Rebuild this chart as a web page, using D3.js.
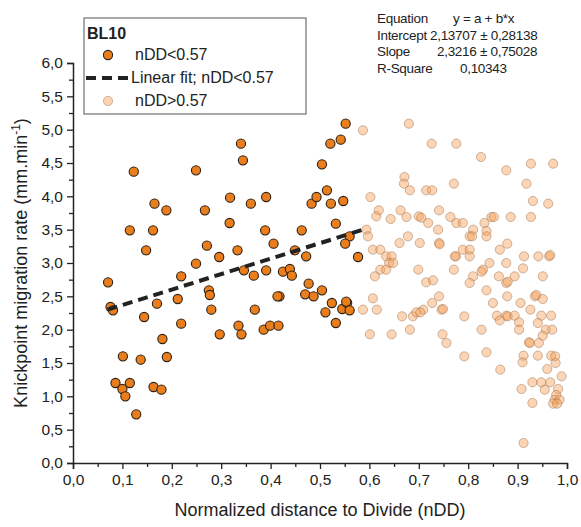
<!DOCTYPE html>
<html lang="en">
  <head>
    <meta charset="utf-8">
    <title>BL10 knickpoint migration</title>
    <script src="https://cdn.jsdelivr.net/npm/d3@7"></script>
    <style>
      body { margin: 0; background: #fff; }
      text { font-family: "Liberation Sans", Arial, sans-serif; fill: #222; }
    </style>
  </head>
  <body>
    <div id="chart"></div>
    <script type="text/javascript">
      // points with nDD < 0.57 : [nDD, rate]
      const lowNdd = [
        [0.123,4.37],[0.249,4.39],[0.340,4.79],[0.344,4.54],[0.165,3.89],[0.189,3.79],[0.267,3.79],
        [0.318,3.98],[0.360,3.89],[0.391,3.99],[0.115,3.49],[0.162,3.49],[0.317,3.60],[0.389,3.49],
        [0.463,3.49],[0.483,3.89],[0.493,3.99],[0.504,4.48],[0.148,3.19],[0.271,3.26],[0.296,3.09],
        [0.333,3.19],[0.406,3.29],[0.449,3.19],[0.472,3.10],[0.249,2.99],[0.346,2.89],[0.391,2.89],
        [0.425,2.87],[0.439,2.91],[0.443,2.81],[0.366,2.81],[0.219,2.80],[0.071,2.71],[0.076,2.34],
        [0.081,2.29],[0.477,2.69],[0.504,2.59],[0.144,2.19],[0.170,2.39],[0.212,2.46],[0.275,2.59],
        [0.277,2.52],[0.280,2.30],[0.219,2.09],[0.181,1.86],[0.297,1.93],[0.335,2.06],[0.341,1.93],
        [0.368,2.30],[0.386,2.00],[0.399,2.06],[0.416,2.06],[0.418,2.50],[0.414,2.50],[0.470,2.53],
        [0.487,2.50],[0.101,1.60],[0.137,1.55],[0.190,1.59],[0.086,1.20],[0.100,1.11],[0.115,1.20],
        [0.106,1.00],[0.163,1.14],[0.179,1.10],[0.128,0.73],[0.552,5.09],[0.542,4.85],[0.521,4.79],
        [0.514,4.09],[0.522,3.89],[0.547,3.93],[0.532,3.59],[0.560,3.40],[0.551,3.29],[0.577,3.09],
        [0.524,2.40],[0.511,2.26],[0.532,2.10],[0.545,2.31],[0.555,2.40],[0.560,2.29],[0.553,2.42]
      ];

      // points with nDD > 0.57
      const highNdd = [
        [0.587,4.99],[0.680,5.09],[0.726,4.79],[0.776,4.79],[0.826,4.59],[0.877,4.39],[0.927,4.49],
        [0.972,4.49],[0.671,4.29],[0.670,4.19],[0.682,4.09],[0.715,4.09],[0.727,4.09],[0.771,4.19],
        [0.918,4.19],[0.602,3.99],[0.931,3.93],[0.962,3.89],[0.619,3.79],[0.614,3.70],[0.663,3.79],
        [0.643,3.66],[0.675,3.69],[0.700,3.70],[0.705,3.68],[0.719,3.60],[0.741,3.79],[0.764,3.69],
        [0.776,3.60],[0.789,3.60],[0.810,3.50],[0.833,3.60],[0.837,3.48],[0.847,3.69],[0.852,3.69],
        [0.886,3.69],[0.927,3.69],[0.594,3.50],[0.597,3.40],[0.739,3.50],[0.678,3.40],[0.661,3.30],
        [0.702,3.30],[0.741,3.30],[0.742,3.28],[0.803,3.40],[0.808,3.40],[0.837,3.40],[0.879,3.29],
        [0.864,3.20],[0.607,3.20],[0.622,3.20],[0.634,3.10],[0.645,3.10],[0.640,3.00],[0.648,3.00],
        [0.775,3.10],[0.773,3.10],[0.789,3.20],[0.803,3.20],[0.803,3.10],[0.830,2.90],[0.843,3.00],
        [0.877,3.00],[0.913,3.10],[0.942,3.10],[0.964,3.10],[0.966,3.12],[0.911,2.92],[0.699,2.90],
        [0.771,2.90],[0.622,2.90],[0.634,2.90],[0.611,2.80],[0.810,2.80],[0.827,2.87],[0.862,2.80],
        [0.894,2.80],[0.951,2.80],[0.715,2.71],[0.729,2.74],[0.803,2.70],[0.877,2.70],[0.880,2.72],
        [0.837,2.59],[0.607,2.47],[0.741,2.50],[0.727,2.40],[0.850,2.40],[0.879,2.50],[0.906,2.40],
        [0.935,2.50],[0.938,2.52],[0.951,2.46],[0.587,2.30],[0.615,2.30],[0.709,2.30],[0.746,2.30],
        [0.749,2.31],[0.926,2.30],[0.666,2.20],[0.688,2.20],[0.695,2.26],[0.703,2.26],[0.792,2.20],
        [0.858,2.21],[0.877,2.21],[0.880,2.20],[0.894,2.21],[0.948,2.21],[0.968,2.21],[0.864,2.14],
        [0.903,2.11],[0.941,2.10],[0.903,2.00],[0.957,2.00],[0.970,2.00],[0.682,2.00],[0.827,2.00],
        [0.601,1.93],[0.645,1.93],[0.748,1.93],[0.951,1.91],[0.756,1.80],[0.923,1.81],[0.925,1.80],
        [0.943,1.80],[0.792,1.60],[0.837,1.66],[0.912,1.61],[0.910,1.51],[0.941,1.61],[0.968,1.61],
        [0.976,1.60],[0.977,1.50],[0.960,1.41],[0.865,1.40],[0.989,1.30],[0.930,1.21],[0.948,1.21],
        [0.966,1.21],[0.908,1.11],[0.955,1.10],[0.982,1.11],[0.978,1.02],[0.975,0.95],[0.985,0.95],
        [0.972,0.89],[0.980,0.89],[0.930,0.90],[0.912,0.30]
      ];

      // linear fit y = a + b*x on nDD<0.57
      const fitCoef = [2.13707, 2.3216];
      const fitRange = [0.07, 0.585];
      const statLabels = ["Equation", "Intercept", "Slope", "R-Square"];
      const statValues = ["y = a + b*x", "2,13707 \u00b1 0,28138", "2,3216 \u00b1 0,75028", "0,10343"];
      const legendLabels = ["nDD<0.57", "Linear fit; nDD<0.57", "nDD>0.57"];

      const svgWidth = 581, svgHeight = 527;
      const margin = { top: 63, right: 14, bottom: 64, left: 73 },
            width = svgWidth - margin.left - margin.right,
            height = svgHeight - margin.top - margin.bottom;

      const root = d3.select("#chart").append("svg")
          .attr("width", svgWidth)
          .attr("height", svgHeight);

      const svg = root.append("g")
          .attr("transform", `translate(${margin.left}, ${margin.top})`);

      const x = d3.scaleLinear().domain([0, 1]).range([0, width]);
      const y = d3.scaleLinear().domain([0, 6]).range([height, 0]);

      const comma = f => (v => d3.format(f)(v).replace(".", ","));

      // axes: major + minor ticks
      const xMinor = svg.append("g")
          .attr("transform", `translate(0, ${height})`)
          .call(d3.axisBottom(x).tickValues(d3.range(0.05, 1, 0.1)).tickSize(4).tickFormat(""));
      const xMajor = svg.append("g")
          .attr("transform", `translate(0, ${height})`)
          .call(d3.axisBottom(x).tickValues(d3.range(0, 1.01, 0.1)).tickSize(6)
                .tickPadding(5).tickFormat(comma(".1f")));
      const yMinor = svg.append("g")
          .call(d3.axisLeft(y).tickValues(d3.range(0.25, 6, 0.5)).tickSize(4).tickFormat(""));
      const yMajor = svg.append("g")
          .call(d3.axisLeft(y).tickValues(d3.range(0, 6.01, 0.5)).tickSize(6)
                .tickPadding(4).tickFormat(comma(".1f")));

      [xMinor, xMajor, yMinor, yMajor].forEach(g => {
          g.select(".domain").attr("stroke", "#222").attr("stroke-width", 1.5);
          g.selectAll(".tick line").attr("stroke", "#222").attr("stroke-width", 1.3);
          g.selectAll(".tick text").attr("font-size", 15.5).attr("fill", "#222")
              .style("font-family", "'Liberation Sans', Arial, sans-serif");
      });
      xMinor.select(".domain").remove();
      yMinor.select(".domain").remove();

      // axis titles
      svg.append("text")
          .attr("x", width / 2)
          .attr("y", height + 53)
          .attr("text-anchor", "middle")
          .attr("font-size", 18)
          .text("Normalized distance to Divide (nDD)");

      const yTitle = svg.append("text")
          .attr("transform", `translate(-46, ${height / 2}) rotate(-90)`)
          .attr("text-anchor", "middle")
          .attr("font-size", 18);
      yTitle.append("tspan").text("Knickpoint migration rate (mm.min");
      yTitle.append("tspan").attr("dy", -7).attr("font-size", 12).text("-1");
      yTitle.append("tspan").attr("dy", 7).text(")");

      // points
      svg.append("g").selectAll("circle")
          .data(highNdd)
          .join("circle")
          .attr("cx", d => x(d[0]))
          .attr("cy", d => y(d[1]))
          .attr("r", 4.6)
          .attr("fill", "#f7a25a")
          .attr("fill-opacity", 0.45)
          .attr("stroke", "#9a6a45")
          .attr("stroke-opacity", 0.45)
          .attr("stroke-width", 1);

      svg.append("g").selectAll("circle")
          .data(lowNdd)
          .join("circle")
          .attr("cx", d => x(d[0]))
          .attr("cy", d => y(d[1]))
          .attr("r", 4.6)
          .attr("fill", "#ea7d1c")
          .attr("stroke", "#2d2115")
          .attr("stroke-width", 1.1);

      const fitLine = d3.line()
          .x(d => x(d))
          .y(d => y(fitCoef[0] + fitCoef[1] * d));

      svg.append("path")
          .datum(fitRange)
          .attr("fill", "none")
          .attr("stroke", "#222")
          .attr("stroke-width", 4)
          .attr("stroke-dasharray", "10,6")
          .attr("d", fitLine);

      // legend
      const legend = root.append("g").attr("transform", "translate(84, 18)");
      legend.append("rect")
          .attr("width", 222).attr("height", 96)
          .attr("fill", "#fff").attr("stroke", "#555").attr("stroke-width", 1);
      legend.append("text")
          .attr("x", 3).attr("y", 21)
          .attr("font-size", 16).attr("font-weight", "bold")
          .text("BL10");

      const rows = [42, 65, 88];
      legend.append("circle").attr("cx", 24).attr("cy", rows[0] - 5).attr("r", 4.6)
          .attr("fill", "#ea7d1c").attr("stroke", "#2d2115").attr("stroke-width", 1.1);
      legend.append("line")
          .attr("x1", 2).attr("x2", 47).attr("y1", rows[1] - 5).attr("y2", rows[1] - 5)
          .attr("stroke", "#222").attr("stroke-width", 4).attr("stroke-dasharray", "10,6");
      legend.append("circle").attr("cx", 24).attr("cy", rows[2] - 5).attr("r", 4.6)
          .attr("fill", "#f7a25a").attr("fill-opacity", 0.45)
          .attr("stroke", "#9a6a45").attr("stroke-opacity", 0.45);
      legend.selectAll("text.item")
          .data(legendLabels)
          .join("text")
          .attr("class", "item")
          .attr("x", (d, i) => i === 1 ? 47 : 51)
          .attr("y", (d, i) => rows[i])
          .attr("font-size", 16)
          .text(d => d);

      // fit statistics
      const stats = root.append("g").attr("transform", "translate(377, 0)");
      stats.selectAll("text.lab")
          .data(statLabels)
          .join("text")
          .attr("class", "lab")
          .attr("x", 0)
          .attr("y", (d, i) => 23 + i * 16.5)
          .attr("font-size", 13.5)
          .attr("letter-spacing", -0.3)
          .text(d => d);
      stats.selectAll("text.val")
          .data(statValues)
          .join("text")
          .attr("class", "val")
          .attr("x", (d, i) => [76, 53, 60, 83][i])
          .attr("y", (d, i) => 23 + i * 16.5)
          .attr("font-size", 13.5)
          .attr("letter-spacing", -0.3)
          .text(d => d);
    </script>
  </body>
</html>
